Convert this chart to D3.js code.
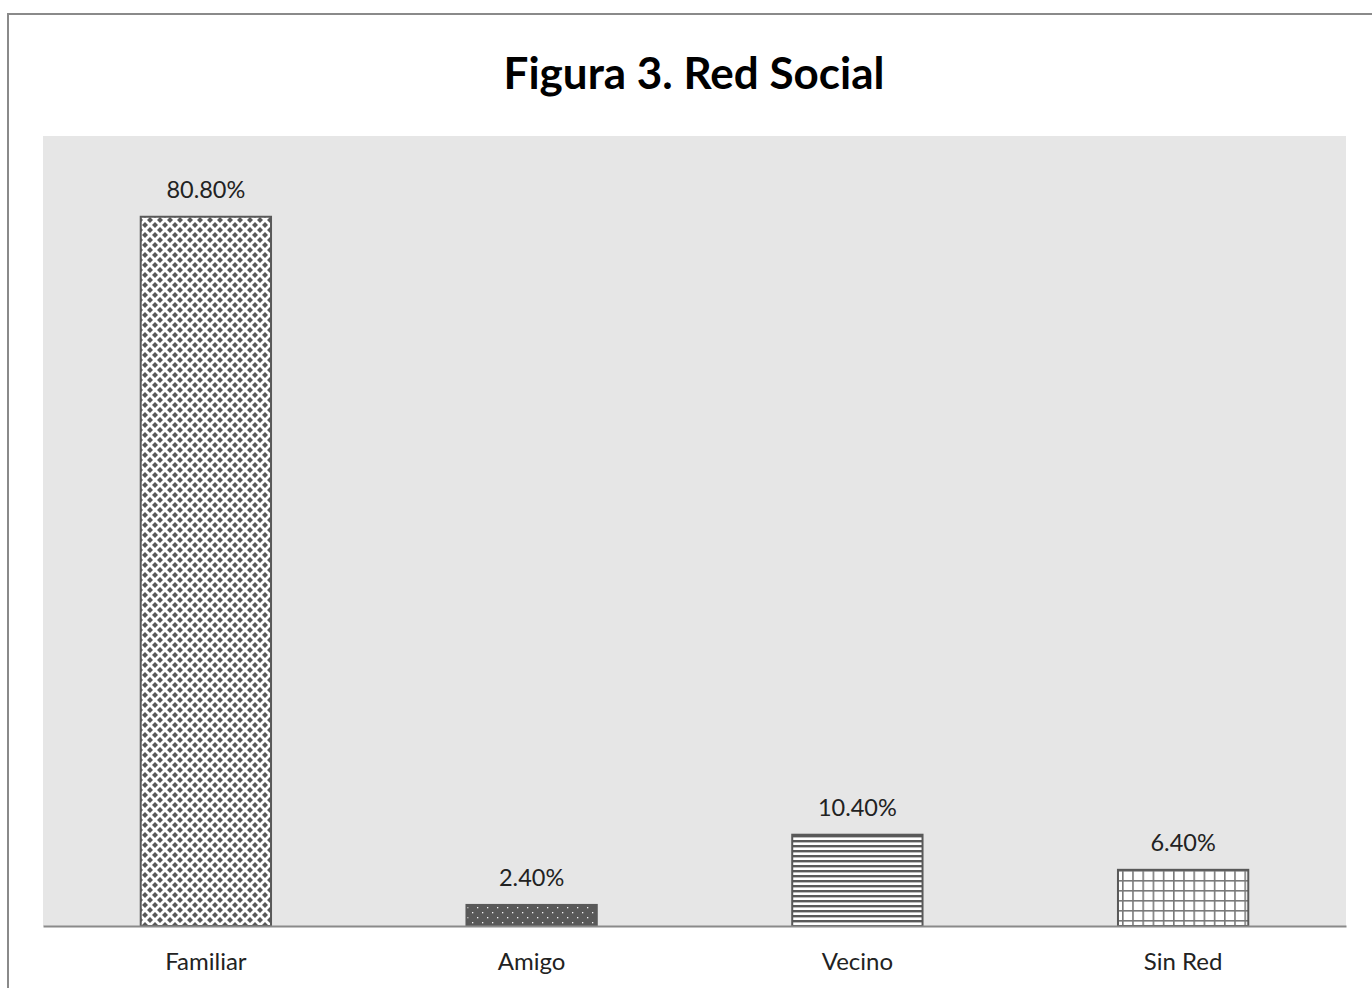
<!DOCTYPE html>
<html>
<head>
<meta charset="utf-8">
<script src="https://cdn.jsdelivr.net/npm/d3@7"></script>
<style>
  html, body { margin: 0; padding: 0; background: #fff; }
  svg { display: block; }
</style>
</head>
<body>
<div id="chart"></div>
<script>
// Data
const categories = ["Familiar", "Amigo", "Vecino", "Sin Red"];
const values = [80.8, 2.4, 10.4, 6.4];
const patterns = ["diamonds", "dots", "hlines", "grid"];
const yDomain = [0, 90];

const W = 1372, H = 988;
const plot = { left: 43, right: 1346, top: 136, bottom: 926 };
const FONT = "Lato, 'Open Sans', sans-serif";
const DARK = "#595959";

const svg = d3.select("#chart").append("svg")
  .attr("width", W).attr("height", H);

// Fill patterns (Excel-style pattern fills)
const defs = svg.append("defs");

const pDiamond = defs.append("pattern").attr("id", "diamonds")
  .attr("patternUnits", "userSpaceOnUse").attr("width", 10).attr("height", 10);
pDiamond.append("rect").attr("width", 10).attr("height", 10).attr("fill", "#fff");
[[0, 0], [10, 0], [0, 10], [10, 10], [5, 5]].forEach(([cx, cy]) => {
  pDiamond.append("path")
    .attr("d", `M${cx},${cy - 3}L${cx + 3},${cy}L${cx},${cy + 3}L${cx - 3},${cy}Z`)
    .attr("fill", DARK);
});

const pDots = defs.append("pattern").attr("id", "dots")
  .attr("patternUnits", "userSpaceOnUse").attr("width", 10).attr("height", 10);
pDots.append("rect").attr("width", 10).attr("height", 10).attr("fill", DARK);
[[2, 2], [7, 7]].forEach(([x, y]) => {
  pDots.append("rect").attr("x", x).attr("y", y).attr("width", 1.3).attr("height", 1.3).attr("fill", "#f2f2f2");
});

const pH = defs.append("pattern").attr("id", "hlines")
  .attr("patternUnits", "userSpaceOnUse").attr("width", 10).attr("height", 5);
pH.append("rect").attr("width", 10).attr("height", 5).attr("fill", "#fff");
pH.append("rect").attr("y", 0).attr("width", 10).attr("height", 2.4).attr("fill", DARK);

const pG = defs.append("pattern").attr("id", "grid")
  .attr("patternUnits", "userSpaceOnUse").attr("width", 10.2).attr("height", 10);
pG.append("rect").attr("width", 10.2).attr("height", 10).attr("fill", "#fff");
pG.append("rect").attr("x", 0).attr("width", 1.6).attr("height", 10).attr("fill", "#7a7a7a");
pG.append("rect").attr("y", 0).attr("width", 10.2).attr("height", 1.6).attr("fill", "#7a7a7a");

// Outer chart border (only left and top visible)
svg.append("path")
  .attr("d", `M8,${H}V14H${W}`)
  .attr("fill", "none").attr("stroke", "#8a8a8a").attr("stroke-width", 2);

// Title
svg.append("text")
  .attr("x", 694).attr("y", 89)
  .attr("text-anchor", "middle")
  .style("font", `bold 44px ${FONT}`)
  .attr("fill", "#000")
  .text("Figura 3. Red Social");

// Plot area
svg.append("rect")
  .attr("x", plot.left).attr("y", plot.top)
  .attr("width", plot.right - plot.left).attr("height", plot.bottom - plot.top)
  .attr("fill", "#e6e6e6");

const x = d3.scaleBand()
  .domain(categories)
  .range([plot.left, plot.right])
  .paddingInner(0.6).paddingOuter(0.3);

const y = d3.scaleLinear().domain(yDomain).range([plot.bottom, plot.top]);

const data = categories.map((c, i) => ({ c, v: values[i], p: patterns[i] }));

svg.append("g").selectAll("rect")
  .data(data)
  .join("rect")
  .attr("x", d => x(d.c))
  .attr("y", d => y(d.v))
  .attr("width", x.bandwidth())
  .attr("height", d => y(0) - y(d.v))
  .attr("fill", d => `url(#${d.p})`)
  .attr("stroke", DARK)
  .attr("stroke-width", 2);

// Value labels
svg.append("g").selectAll("text")
  .data(data)
  .join("text")
  .attr("x", d => x(d.c) + x.bandwidth() / 2)
  .attr("y", d => y(d.v) - 19)
  .attr("text-anchor", "middle")
  .style("font", `23.5px ${FONT}`)
  .attr("fill", "#222")
  .text(d => d.v.toFixed(2) + "%");

// X axis
const xAxis = svg.append("g")
  .attr("transform", `translate(0,${plot.bottom})`)
  .call(d3.axisBottom(x).tickSize(0).tickPadding(27));
xAxis.select(".domain").attr("stroke", "#8a8a8a").attr("stroke-width", 2);
xAxis.selectAll("text")
  .style("font", `24px ${FONT}`)
  .attr("fill", "#222");
</script>
</body>
</html>
